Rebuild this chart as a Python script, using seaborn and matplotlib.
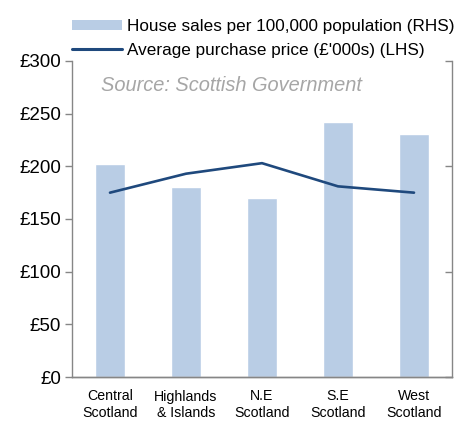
import matplotlib
matplotlib.use("Agg")
import matplotlib.pyplot as plt
from matplotlib.patches import Patch
from matplotlib.lines import Line2D
import seaborn as sns
import pandas as pd

# Regional housing data
regions = ["Central\nScotland", "Highlands\n& Islands", "N.E\nScotland", "S.E\nScotland", "West\nScotland"]
house_sales = [202, 180, 170, 242, 231]          # per 100,000 population (RHS)
avg_price = [175, 193, 203, 181, 175]            # £'000s (LHS)
lhs_ticks = [0, 50, 100, 150, 200, 250, 300]
lhs_labels = ["£0", "£50", "£100", "£150", "£200", "£250", "£300"]

df = pd.DataFrame({"region": regions, "sales": house_sales, "price": avg_price})

sns.set_style("white")
plt.rcParams["font.family"] = ["Liberation Sans", "DejaVu Sans"]
plt.rcParams["text.color"] = "black"
plt.rcParams["xtick.labelcolor"] = "black"
plt.rcParams["ytick.labelcolor"] = "black"

BAR = "#b9cde5"
LINE = "#1f497d"
AXC = "#868686"

fig = plt.figure(figsize=(4.62, 4.21), dpi=100)
ax = fig.add_axes([72 / 462, 1 - 377 / 421, 380 / 462, 316 / 421])
ax2 = ax.twinx()

sns.barplot(data=df, x="region", y="sales", color=BAR, width=0.4,
            saturation=1, ax=ax2)
sns.lineplot(x=list(range(len(regions))), y=df["price"], color=LINE,
             linewidth=1.9, ax=ax)

ax.set_zorder(ax2.get_zorder() + 1)
ax.patch.set_visible(False)

for a in (ax, ax2):
    a.set_xlim(-0.5, len(regions) - 0.5)
    a.set_ylim(0, 300)
    a.set_xlabel("")
    a.set_ylabel("")
    for s in a.spines.values():
        s.set_color(AXC)
        s.set_linewidth(1.0)
    a.spines["top"].set_visible(False)

ax.set_yticks(lhs_ticks)
ax.set_yticklabels(lhs_labels, fontsize=13.5, color="black")
ax.tick_params(axis="y", direction="out", length=5, width=1, color=AXC, pad=3)
ax.spines["right"].set_visible(False)

ax2.set_yticks([0, 100, 200, 300])
ax2.set_yticklabels([])
ax2.tick_params(axis="y", direction="in", length=5, width=1, color=AXC)
ax2.spines["left"].set_visible(False)

ax.set_xticks(range(len(regions)))
ax.set_xticklabels(regions, fontsize=10.2, linespacing=1.25, color="black")
ax.tick_params(axis="x", length=0, pad=9)
ax.set_xticks([i - 0.5 for i in range(len(regions) + 1)], minor=True)
ax.tick_params(axis="x", which="minor", direction="out", length=4, width=1, color=AXC)

ax.text(0.076, 0.922, "Source: Scottish Government", transform=ax.transAxes,
        fontsize=14.4, style="italic", color="#a6a6a6", va="center", ha="left")

handles = [Patch(facecolor=BAR, edgecolor="none"),
           Line2D([], [], color=LINE, linewidth=2.2)]
labels = ["House sales per 100,000 population (RHS)",
          "Average purchase price (£'000s) (LHS)"]
fig.legend(handles, labels, loc="upper left", bbox_to_anchor=(72 / 462, 1 - 19 / 421),
           frameon=False, fontsize=12.3, handlelength=2.9, handleheight=0.5,
           handletextpad=0.3, labelspacing=0.52, borderpad=0, borderaxespad=0,
           labelcolor="black")

fig.savefig("out.png", dpi=100)
